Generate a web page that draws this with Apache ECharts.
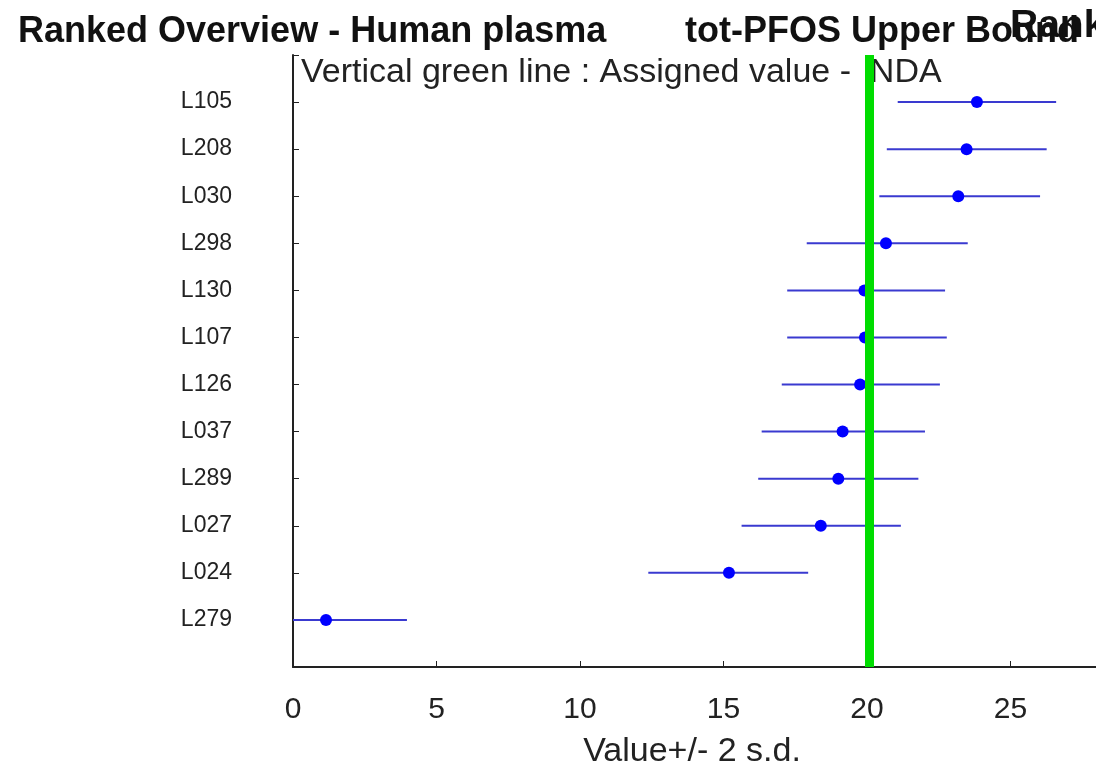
<!DOCTYPE html>
<html>
<head>
<meta charset="utf-8">
<script src="https://cdn.jsdelivr.net/npm/echarts@6/dist/echarts.min.js"></script>
<style>
  html, body { margin: 0; padding: 0; background: #fff; }
  #main { width: 1096px; height: 776px; }
</style>
</head>
<body>
<div id="main"></div>
<script>
// labs, top to bottom
var labs = ['L105', 'L208', 'L030', 'L298', 'L130', 'L107', 'L126', 'L037', 'L289', 'L027', 'L024', 'L279'];
var values = [23.83, 23.47, 23.18, 20.66, 19.91, 19.93, 19.76, 19.15, 19.0, 18.39, 15.19, 1.15];
var lower = [21.07, 20.69, 20.43, 17.9, 17.22, 17.22, 17.03, 16.33, 16.21, 15.63, 12.38, -1.65];
var upper = [26.59, 26.26, 26.03, 23.51, 22.72, 22.78, 22.54, 22.02, 21.79, 21.18, 17.95, 3.97];
var assignedValue = 20.07;
var xTicks = [0, 5, 10, 15, 20, 25, 30];

// blank slots at both ends so the first/last lab sit one step from the edges
var cats = [''].concat(labs).concat(['']);

var barData = [];
var dotData = [];
for (var i = 0; i < labs.length; i++) {
    barData.push([lower[i], upper[i], labs[i]]);
    dotData.push([values[i], labs[i]]);
}

var font = 'Liberation Sans, Arial, sans-serif';

var myChart = echarts.init(document.getElementById('main'));
var option = {
    backgroundColor: '#fff',
    animation: false,
    grid: {
        left: 293,
        top: 55,
        bottom: 109,
        right: -58,
        containLabel: false,
        outerBoundsMode: 'none'
    },
    graphic: [
        {
            type: 'text', left: 18, top: 14,
            style: { text: 'Ranked Overview - Human plasma', font: 'bold 36px ' + font, fill: '#111' }
        },
        {
            type: 'text', left: 685, top: 14,
            style: { text: 'tot-PFOS Upper Bound', font: 'bold 36px ' + font, fill: '#111' }
        },
        {
            type: 'text', left: 1010, top: 7,
            style: { text: 'Ranked', font: 'bold 39px ' + font, fill: '#111' }
        },
        {
            type: 'text', left: 301, top: 56,
            style: { text: 'Vertical green line : Assigned value -  NDA', font: '34px ' + font, fill: '#222' }
        },
        {
            type: 'text', x: 692, y: 752,
            style: {
                text: 'Value+/- 2 s.d.', font: '34px ' + font, fill: '#222',
                align: 'center', verticalAlign: 'middle'
            }
        }
    ],
    xAxis: {
        type: 'value',
        min: 0,
        max: 30,
        interval: 5,
        axisLine: { show: true, lineStyle: { color: '#222', width: 2 } },
        axisTick: { show: true, inside: true, length: 6, lineStyle: { color: '#222' } },
        axisLabel: {
            fontSize: 30, color: '#222', fontFamily: font, margin: 28,
            formatter: function (v) { return xTicks.indexOf(v) >= 0 ? String(v) : ''; }
        },
        splitLine: { show: false }
    },
    yAxis: {
        type: 'category',
        data: cats,
        inverse: true,
        boundaryGap: false,
        axisLine: { show: true, lineStyle: { color: '#222', width: 2 } },
        axisTick: { show: true, inside: true, length: 6, lineStyle: { color: '#222' } },
        axisLabel: { fontSize: 23, color: '#222', fontFamily: font, margin: 61 },
        splitLine: { show: false }
    },
    series: [
        {
            type: 'custom',
            clip: true,
            data: barData,
            encode: { x: [0, 1], y: 2 },
            renderItem: function (params, api) {
                var p1 = api.coord([api.value(0), api.value(2)]);
                var p2 = api.coord([api.value(1), api.value(2)]);
                return {
                    type: 'line',
                    shape: { x1: p1[0], y1: p1[1], x2: p2[0], y2: p2[1] },
                    style: { stroke: '#3a3ad0', lineWidth: 2 }
                };
            },
            z: 3
        },
        {
            type: 'scatter',
            data: dotData,
            symbol: 'circle',
            symbolSize: 12,
            itemStyle: { color: '#0000ff', opacity: 1 },
            z: 4,
            markLine: {
                silent: true,
                symbol: 'none',
                label: { show: false },
                lineStyle: { color: '#00dd00', width: 9, type: 'solid' },
                data: [{ xAxis: assignedValue }],
                z: 10
            }
        }
    ]
};
myChart.setOption(option);
</script>
</body>
</html>
